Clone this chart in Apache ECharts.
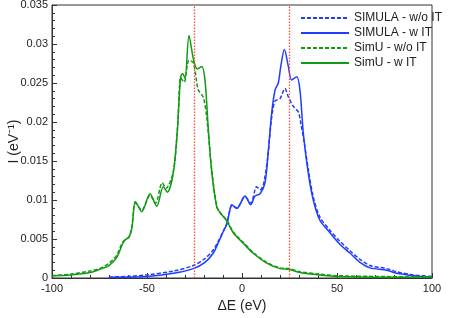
<!DOCTYPE html>
<html>
<head>
<meta charset="utf-8">
<script src="https://cdn.jsdelivr.net/npm/echarts@6/dist/echarts.min.js"></script>
<style>html,body{margin:0;padding:0;background:#fff;}#c{width:449px;height:318px;}</style>
</head>
<body>
<div id="c"></div>
<script>
var seriesNames = ['SIMULA - w/o IT', 'SIMULA - w IT', 'SimU - w/o IT', 'SimU - w IT'];
var xTicks = [-100, -50, 0, 50, 100];
var yTicks = [0, 0.005, 0.01, 0.015, 0.02, 0.025, 0.03, 0.035];
var refLines = [-25, 25];

var simulaWoIT = [[-70,0.0001],[-60,0.0002],[-50,0.0004],[-36,0.0009],[-25.6,0.0016],[-19.5,0.0025],[-15.1,0.0036],[-12.5,0.0047],[-9.8,0.0060],[-8,0.0070],[-6.3,0.0088],[-5.4,0.0093],[-2.8,0.0090],[1.6,0.0104],[4.6,0.0096],[7.7,0.0117],[9.5,0.0113],[11.2,0.0119],[13.5,0.0154],[15.6,0.0206],[17.4,0.0227],[20,0.0230],[22.6,0.0243],[24.4,0.0232],[27,0.0220],[29.6,0.0213],[30.9,0.0199],[32.8,0.0173],[35,0.0137],[37.5,0.0104],[41,0.0078],[46.3,0.0061],[51.6,0.0047],[56.8,0.0035],[62.1,0.0024],[67.4,0.0016],[76.2,0.0012],[81.4,0.0008],[90.2,0.0004],[100,0.0002]];
var simulaWIT = [[-70,0.0001],[-60,0.0001],[-50,0.0002],[-36,0.0006],[-25.6,0.0012],[-19.5,0.0020],[-15.1,0.0032],[-12.5,0.0045],[-9.8,0.0060],[-8,0.0069],[-6.3,0.0088],[-5.4,0.0094],[-2.8,0.0089],[1.6,0.0105],[4.6,0.0094],[6.8,0.0105],[9.5,0.0108],[12.1,0.0122],[13.9,0.0164],[15.6,0.0211],[17.4,0.0241],[19.1,0.0250],[20.4,0.0271],[22.3,0.0293],[24.4,0.0271],[26.1,0.0254],[28.8,0.0258],[30.5,0.0241],[32.3,0.0185],[34.9,0.0134],[37.5,0.0100],[41,0.0074],[46.3,0.0058],[51.6,0.0043],[56.8,0.0032],[62.1,0.0020],[67.4,0.0013],[76.2,0.0010],[81.4,0.0006],[90.2,0.0003],[100,0.0001]];
var simuWoIT = [[-100,0.0003],[-90,0.0005],[-80,0.0009],[-75,0.0012],[-70,0.0019],[-66,0.0029],[-63,0.0045],[-61.5,0.0049],[-59.5,0.0053],[-58,0.0065],[-56.3,0.0096],[-55.5,0.0095],[-52.8,0.0087],[-48.4,0.0106],[-45.5,0.0096],[-42,0.0122],[-40,0.0115],[-36.2,0.0136],[-34,0.0190],[-32.3,0.0257],[-31.2,0.0253],[-30.4,0.0251],[-27.9,0.0279],[-25.6,0.0276],[-23,0.0241],[-20.4,0.0232],[-18.6,0.0207],[-16,0.0140],[-13.3,0.0092],[-11.6,0.0084],[-8,0.0074],[-4.6,0.0059],[0.5,0.0046],[5.8,0.0033],[13,0.0020],[20,0.0013],[25,0.0012],[30.5,0.0008],[41,0.0005],[50,0.0003],[70,0.0002],[100,0.0001]];
var simuWIT = [[-100,0.0003],[-90,0.0004],[-80,0.0007],[-75,0.0011],[-70,0.0016],[-66,0.0026],[-63,0.0043],[-61.5,0.0049],[-59.5,0.0052],[-58,0.0063],[-56.3,0.0098],[-55.5,0.0096],[-52.8,0.0085],[-48.4,0.0108],[-44.9,0.0092],[-41.4,0.0117],[-39.3,0.0110],[-36.2,0.0134],[-34,0.0190],[-32.3,0.0258],[-31.2,0.0262],[-30,0.0256],[-27.9,0.0311],[-25.6,0.0281],[-23.5,0.0268],[-21.2,0.0271],[-19.5,0.0254],[-17.7,0.0190],[-16,0.0138],[-13.3,0.0091],[-11.6,0.0084],[-8,0.0073],[-4.6,0.0058],[0.5,0.0045],[5.8,0.0032],[13,0.0019],[20,0.0012],[25,0.0011],[30.5,0.0007],[41,0.0004],[50,0.0002],[70,0.0001],[100,0.0001]];

var blue = '#1f3cff', green = '#139a13', red = '#ff4a3a';
var font = 'Liberation Sans, Arial, sans-serif';

function mk(name, data, color, type) {
  return {
    name: name, type: 'line', data: data, symbol: 'none', smooth: 0.3,
    lineStyle: {color: color, width: 1.5, type: type},
    itemStyle: {color: color},
    z: 3
  };
}
var series = [
  mk(seriesNames[0], simulaWoIT, blue, [4, 2]),
  mk(seriesNames[1], simulaWIT, blue, 'solid'),
  mk(seriesNames[2], simuWoIT, green, [4, 2]),
  mk(seriesNames[3], simuWIT, green, 'solid')
];
series[0].markLine = {
  silent: true, symbol: 'none', label: {show: false},
  lineStyle: {color: red, type: [1.5, 1.5], width: 1.3},
  data: refLines.map(function (v) { return {xAxis: v}; })
};

var chart = echarts.init(document.getElementById('c'), null, {renderer: 'canvas'});
chart.setOption({
  animation: false,
  grid: {left: 52, right: 17, top: 5, bottom: 40, show: true, borderColor: '#333', borderWidth: 1,
    backgroundColor: 'transparent', containLabel: false, outerBoundsMode: 'none'},
  legend: {
    orient: 'vertical', left: 295, top: 6, itemWidth: 48, itemHeight: 10, itemGap: 1,
    itemStyle: {opacity: 0},
    textStyle: {fontFamily: font, fontSize: 12, color: '#222', lineHeight: 14},
    data: seriesNames
  },
  xAxis: {
    type: 'value', min: xTicks[0], max: xTicks[xTicks.length - 1], interval: 50,
    name: 'ΔE (eV)', nameLocation: 'middle', nameGap: 16,
    nameTextStyle: {fontFamily: font, fontSize: 14, color: '#222'},
    axisLine: {onZero: false, lineStyle: {color: '#333'}},
    axisTick: {inside: true, length: 5, lineStyle: {color: '#333'}},
    minorTick: {show: true, splitNumber: 5, length: 3, lineStyle: {color: '#333'}},
    splitLine: {show: false},
    axisLabel: {fontFamily: font, fontSize: 11, color: '#222', margin: 5}
  },
  yAxis: {
    type: 'value', min: yTicks[0], max: yTicks[yTicks.length - 1], interval: 0.005,
    name: 'I (eV⁻¹)', nameLocation: 'middle', nameGap: 31, nameMoveOverlap: false,
    nameTextStyle: {fontFamily: font, fontSize: 14, color: '#222'},
    axisLine: {show: true, onZero: false, lineStyle: {color: '#333'}},
    axisTick: {inside: true, length: 5, lineStyle: {color: '#333'}},
    minorTick: {show: true, splitNumber: 5, length: 3, lineStyle: {color: '#333'}},
    splitLine: {show: false},
    axisLabel: {fontFamily: font, fontSize: 11, color: '#222', margin: 4,
      formatter: function (v) { return String(+v.toFixed(3)); }}
  },
  series: series
});
</script>
</body>
</html>
